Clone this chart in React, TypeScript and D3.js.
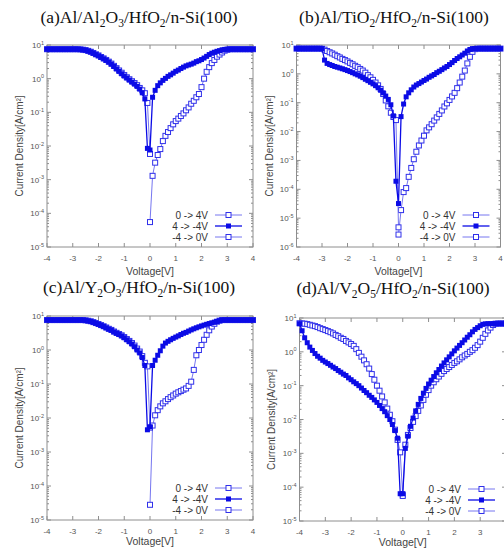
import React from 'react';
import * as d3 from 'd3';

// Voltage sweeps (V)
const V_UP = [0, 0.1, 0.2, 0.3, 0.4, 0.5, 0.6, 0.7, 0.8, 0.9, 1, 1.1, 1.2, 1.3, 1.4, 1.5, 1.6, 1.7, 1.8, 1.9, 2, 2.1, 2.2, 2.3, 2.4, 2.5, 2.6, 2.7, 2.8, 2.9, 3, 3.1, 3.2, 3.3, 3.4, 3.5, 3.6, 3.7, 3.8, 3.9, 4];
const V_DOWN = [4, 3.9, 3.8, 3.7, 3.6, 3.5, 3.4, 3.3, 3.2, 3.1, 3, 2.9, 2.8, 2.7, 2.6, 2.5, 2.4, 2.3, 2.2, 2.1, 2, 1.9, 1.8, 1.7, 1.6, 1.5, 1.4, 1.3, 1.2, 1.1, 1, 0.9, 0.8, 0.7, 0.6, 0.5, 0.4, 0.3, 0.2, 0.1, 0, -0.1, -0.2, -0.3, -0.4, -0.5, -0.6, -0.7, -0.8, -0.9, -1, -1.1, -1.2, -1.3, -1.4, -1.5, -1.6, -1.7, -1.8, -1.9, -2, -2.1, -2.2, -2.3, -2.4, -2.5, -2.6, -2.7, -2.8, -2.9, -3, -3.1, -3.2, -3.3, -3.4, -3.5, -3.6, -3.7, -3.8, -3.9, -4];
const V_NEG = [-4, -3.9, -3.8, -3.7, -3.6, -3.5, -3.4, -3.3, -3.2, -3.1, -3, -2.9, -2.8, -2.7, -2.6, -2.5, -2.4, -2.3, -2.2, -2.1, -2, -1.9, -1.8, -1.7, -1.6, -1.5, -1.4, -1.3, -1.2, -1.1, -1, -0.9, -0.8, -0.7, -0.6, -0.5, -0.4, -0.3, -0.2, -0.1, 0];

// Current density (A/cm^2) — (a) Al/Al2O3/HfO2/n-Si(100)
const A_UP = [5.5e-5, 1.3e-3, 3.2e-3, 5.4e-3, 8.1e-3, 0.014, 0.02, 0.026, 0.034, 0.044, 0.055, 0.065, 0.078, 0.093, 0.115, 0.14, 0.18, 0.22, 0.28, 0.35, 0.56, 1.0, 1.6, 2.2, 2.9, 3.6, 4.5, 5.2, 6.0, 6.8, 7.2, 7.5, 7.5, 7.5, 7.5, 7.5, 7.5, 7.5, 7.5, 7.5, 7.5];
const A_DOWN = [7.5, 7.5, 7.5, 7.5, 7.5, 7.5, 7.5, 7.5, 7.5, 7.5, 7.5, 7.4, 7.2, 6.8, 6.5, 6.1, 5.7, 5.2, 4.6, 4.1, 3.7, 3.4, 3.2, 2.9, 2.7, 2.55, 2.4, 2.2, 2.0, 1.8, 1.65, 1.46, 1.3, 1.17, 1.02, 0.89, 0.75, 0.62, 0.45, 0.28, 7.6e-3, 8.5e-3, 0.25, 0.38, 0.49, 0.59, 0.69, 0.79, 0.91, 1.05, 1.2, 1.4, 1.65, 1.95, 2.3, 2.7, 3.1, 3.5, 3.9, 4.3, 4.8, 5.2, 5.7, 6.2, 6.6, 7.0, 7.2, 7.4, 7.5, 7.5, 7.5, 7.5, 7.5, 7.5, 7.5, 7.5, 7.5, 7.5, 7.5, 7.5, 7.5];
const A_NEG = [7.5, 7.5, 7.5, 7.5, 7.5, 7.5, 7.5, 7.5, 7.5, 7.5, 7.5, 7.5, 7.5, 7.4, 7.25, 7.05, 6.7, 6.3, 5.8, 5.3, 4.9, 4.4, 4.0, 3.6, 3.2, 2.8, 2.4, 2.05, 1.75, 1.5, 1.28, 1.1, 0.96, 0.84, 0.74, 0.64, 0.53, 0.45, 0.37, 0.19, 5.8e-3];

// (b) Al/TiO2/HfO2/n-Si(100)
const B_UP = [2.7e-6, 1.9e-5, 8.0e-5, 1.1e-4, 2.7e-4, 5.5e-4, 1.1e-3, 2.0e-3, 3.3e-3, 4.9e-3, 7.2e-3, 0.011, 0.014, 0.018, 0.024, 0.031, 0.041, 0.054, 0.074, 0.095, 0.125, 0.165, 0.22, 0.32, 0.5, 0.8, 1.3, 2.3, 3.9, 5.8, 7.2, 7.5, 7.5, 7.5, 7.5, 7.5, 7.5, 7.5, 7.5, 7.5, 7.5];
const B_DOWN = [7.5, 7.5, 7.5, 7.5, 7.5, 7.5, 7.5, 7.5, 7.5, 7.5, 7.5, 7.5, 7.0, 6.2, 5.2, 4.5, 3.9, 3.4, 2.9, 2.45, 2.1, 1.8, 1.6, 1.4, 1.23, 1.1, 0.95, 0.85, 0.76, 0.66, 0.59, 0.52, 0.46, 0.41, 0.35, 0.28, 0.22, 0.16, 0.09, 0.033, 3.2e-5, 1.9e-4, 0.035, 0.085, 0.13, 0.17, 0.22, 0.27, 0.33, 0.39, 0.45, 0.51, 0.58, 0.65, 0.74, 0.83, 0.92, 1.0, 1.1, 1.2, 1.3, 1.4, 1.5, 1.6, 1.7, 1.8, 1.95, 2.1, 2.3, 3.0, 7.5, 7.5, 7.5, 7.5, 7.5, 7.5, 7.5, 7.5, 7.5, 7.5, 7.5];
const B_NEG = [7.5, 7.5, 7.5, 7.5, 7.5, 7.5, 7.5, 7.5, 7.5, 7.5, 7.4, 6.9, 6.2, 5.6, 5.1, 4.6, 4.1, 3.7, 3.3, 3.0, 2.7, 2.4, 2.15, 1.9, 1.7, 1.48, 1.3, 1.1, 0.9, 0.76, 0.62, 0.5, 0.4, 0.3, 0.2, 0.12, 0.075, 0.045, 0.032, 0.025, 4.8e-6];

// (c) Al/Y2O3/HfO2/n-Si(100)
const C_UP = [2.8e-5, 6.0e-3, 0.012, 0.017, 0.022, 0.027, 0.031, 0.036, 0.041, 0.046, 0.052, 0.057, 0.062, 0.068, 0.074, 0.088, 0.117, 0.26, 0.7, 1.0, 1.4, 2.0, 2.8, 3.8, 4.9, 5.9, 6.8, 7.3, 7.6, 7.6, 7.6, 7.6, 7.6, 7.6, 7.6, 7.6, 7.6, 7.6, 7.6, 7.6, 7.6];
const C_DOWN = [7.6, 7.6, 7.6, 7.6, 7.6, 7.6, 7.6, 7.6, 7.6, 7.6, 7.6, 7.6, 7.6, 7.3, 6.9, 6.6, 6.3, 6.0, 5.7, 5.4, 5.1, 4.8, 4.5, 4.2, 3.9, 3.6, 3.3, 3.1, 2.85, 2.6, 2.4, 2.2, 2.0, 1.8, 1.6, 1.3, 0.95, 0.7, 0.5, 0.35, 5.5e-3, 4.5e-3, 0.35, 0.6, 0.82, 1.0, 1.25, 1.5, 1.75, 2.0, 2.3, 2.6, 2.85, 3.1, 3.4, 3.8, 4.1, 4.5, 4.9, 5.3, 5.7, 6.1, 6.5, 6.9, 7.2, 7.4, 7.6, 7.6, 7.6, 7.6, 7.6, 7.6, 7.6, 7.6, 7.6, 7.6, 7.6, 7.6, 7.6, 7.6, 7.6];
const C_NEG = [7.6, 7.6, 7.6, 7.6, 7.6, 7.6, 7.6, 7.6, 7.6, 7.6, 7.6, 7.6, 7.6, 7.6, 7.6, 7.45, 7.25, 7.0, 6.6, 6.2, 5.8, 5.4, 5.0, 4.6, 4.2, 3.9, 3.5, 3.2, 2.95, 2.7, 2.4, 2.1, 1.85, 1.6, 1.35, 1.1, 0.9, 0.66, 0.42, 0.33, 5.2e-3];

// (d) Al/V2O5/HfO2/n-Si(100)
const D_UP = [6.0e-5, 1.8e-3, 3.5e-3, 5.6e-3, 8.5e-3, 0.0126, 0.018, 0.026, 0.038, 0.054, 0.074, 0.1, 0.126, 0.155, 0.186, 0.224, 0.27, 0.31, 0.355, 0.41, 0.47, 0.525, 0.6, 0.69, 0.78, 0.87, 1.0, 1.12, 1.32, 1.58, 2.0, 2.6, 3.4, 4.3, 5.2, 6.2, 6.8, 6.9, 6.9, 6.9, 6.9];
const D_DOWN = [6.8, 6.8, 6.8, 6.8, 6.8, 6.8, 6.8, 6.8, 6.7, 6.5, 5.9, 5.2, 4.6, 3.9, 3.2, 2.7, 2.24, 1.86, 1.55, 1.29, 1.07, 0.87, 0.71, 0.58, 0.47, 0.38, 0.3, 0.24, 0.186, 0.145, 0.112, 0.083, 0.06, 0.042, 0.028, 0.018, 0.011, 6.3e-3, 3.2e-3, 1.4e-3, 6.4e-5, 6.4e-5, 2.8e-3, 4.7e-3, 7.1e-3, 0.01, 0.013, 0.017, 0.021, 0.026, 0.032, 0.038, 0.045, 0.052, 0.062, 0.072, 0.085, 0.1, 0.115, 0.13, 0.15, 0.17, 0.2, 0.22, 0.25, 0.28, 0.32, 0.355, 0.4, 0.45, 0.5, 0.56, 0.65, 0.74, 0.89, 1.1, 1.38, 1.86, 2.6, 4.2, 6.8];
const D_NEG = [7.0, 6.9, 6.8, 6.6, 6.3, 6.0, 5.75, 5.4, 5.0, 4.7, 4.4, 4.1, 3.8, 3.5, 3.16, 2.9, 2.6, 2.4, 2.1, 1.9, 1.7, 1.5, 1.2, 0.93, 0.72, 0.56, 0.43, 0.32, 0.22, 0.15, 0.1, 0.071, 0.048, 0.032, 0.021, 0.0138, 8.9e-3, 5.0e-3, 2.5e-3, 1.07e-3, 5.5e-5];

const LEGEND_LABELS = ['0 -> 4V', '4 -> -4V', '-4 -> 0V'];
const X_TICKS = [-4, -3, -2, -1, 0, 1, 2, 3, 4];
const X_LABEL = 'Voltage[V]';
const Y_LABEL = 'Current Density[A/cm\u00B2]';

type Part = [string, boolean];
const TITLE_A: Part[] = [['(a)Al/Al', false], ['2', true], ['O', false], ['3', true], ['/HfO', false], ['2', true], ['/n-Si(100)', false]];
const TITLE_B: Part[] = [['(b)Al/TiO', false], ['2', true], ['/HfO', false], ['2', true], ['/n-Si(100)', false]];
const TITLE_C: Part[] = [['(c)Al/Y', false], ['2', true], ['O', false], ['3', true], ['/HfO', false], ['2', true], ['/n-Si(100)', false]];
const TITLE_D: Part[] = [['(d)Al/V', false], ['2', true], ['O', false], ['5', true], ['/HfO', false], ['2', true], ['/n-Si(100)', false]];

const FILLED = '#0b0be6';
const OPEN = '#3030ea';
const OPEN_LINE = '#7676f0';
const FRAME = '#8e8e8e';
const SANS = "'Liberation Sans', Arial, sans-serif";
const SERIF = "'Liberation Serif', 'Times New Roman', serif";
const PAGE_W = 504;

interface PanelCfg {
  title: Part[];
  up: number[];
  down: number[];
  neg: number[];
  yMin: number;
  left: number;
  right: number;
  top: number;
  bottom: number;
  titleX: number;
  titleY: number;
  yLabelX: number;
  xLabelY: number;
}

const PANELS: PanelCfg[] = [
  { title: TITLE_A, up: A_UP, down: A_DOWN, neg: A_NEG, yMin: 1e-5, left: 47, right: 253, top: 45, bottom: 247, titleX: 139, titleY: 23, yLabelX: 19.5, xLabelY: 275 },
  { title: TITLE_B, up: B_UP, down: B_DOWN, neg: B_NEG, yMin: 1e-6, left: 296.5, right: 500.5, top: 45, bottom: 247, titleX: 394, titleY: 23, yLabelX: 269, xLabelY: 275 },
  { title: TITLE_C, up: C_UP, down: C_DOWN, neg: C_NEG, yMin: 1e-5, left: 47, right: 253, top: 316, bottom: 520, titleX: 139, titleY: 293, yLabelX: 19.5, xLabelY: 545 },
  { title: TITLE_D, up: D_UP, down: D_DOWN, neg: D_NEG, yMin: 1e-5, left: 299.5, right: 506, top: 318, bottom: 521, titleX: 393, titleY: 294, yLabelX: 271, xLabelY: 546 },
];

function Title({ parts, x, y }: { parts: Part[]; x: number; y: number }) {
  let prevSub = false;
  return (
    <text x={x} y={y} textAnchor="middle" fontFamily={SERIF} fontSize={17.5} fill="#111">
      {parts.map(([t, sub], i) => {
        const dy = sub && !prevSub ? 4 : !sub && prevSub ? -4 : 0;
        prevSub = sub;
        return (
          <tspan key={i} dy={dy} fontSize={sub ? 11.5 : 17.5}>
            {t}
          </tspan>
        );
      })}
    </text>
  );
}

function Square({ cx, cy, filled }: { cx: number; cy: number; filled: boolean }) {
  const s = 5;
  return filled ? (
    <rect x={cx - s / 2} y={cy - s / 2} width={s} height={s} fill={FILLED} />
  ) : (
    <rect x={cx - s / 2} y={cy - s / 2} width={s} height={s} fill="#fff" stroke={OPEN} strokeWidth={1} />
  );
}

function Panel({ cfg }: { cfg: PanelCfg }) {
  const x = d3.scaleLinear().domain([-4, 4]).range([cfg.left, cfg.right]);
  const y = d3.scaleLog().domain([cfg.yMin, 10]).range([cfg.bottom, cfg.top]);
  const line = d3
    .line<[number, number]>()
    .x((d) => x(d[0]))
    .y((d) => y(d[1]));

  const zip = (vs: number[], js: number[]) => vs.map((v, i) => [v, js[i]] as [number, number]);
  const series = [
    { pts: zip(V_UP, cfg.up), filled: false },
    { pts: zip(V_NEG, cfg.neg), filled: false },
    { pts: zip(V_DOWN, cfg.down), filled: true },
  ];

  const yTicks = y.ticks();
  const isMajor = (t: number) => Math.abs(Math.log10(t) - Math.round(Math.log10(t))) < 1e-6;
  const midY = (cfg.top + cfg.bottom) / 2;
  const midX = (cfg.left + cfg.right) / 2;

  const legendRows = [
    { label: LEGEND_LABELS[0], filled: false },
    { label: LEGEND_LABELS[1], filled: true },
    { label: LEGEND_LABELS[2], filled: false },
  ];
  const legendYs = [cfg.bottom - 32, cfg.bottom - 21, cfg.bottom - 10];

  return (
    <g>
      <Title parts={cfg.title} x={cfg.titleX} y={cfg.titleY} />

      {/* frame */}
      <rect x={cfg.left} y={cfg.top} width={cfg.right - cfg.left} height={cfg.bottom - cfg.top} fill="none" stroke={FRAME} strokeWidth={1} />

      {/* x ticks; labels that fall past the page edge are left out */}
      {X_TICKS.map((t) => (
        <g key={'x' + t}>
          <line x1={x(t)} x2={x(t)} y1={cfg.bottom} y2={cfg.bottom - 4} stroke={FRAME} />
          <line x1={x(t)} x2={x(t)} y1={cfg.top} y2={cfg.top + 4} stroke={FRAME} />
          {x(t) + 3 < PAGE_W && (
            <text x={x(t)} y={cfg.bottom + 14} textAnchor="middle" fontFamily={SANS} fontSize={8} fill="#555">
              {t}
            </text>
          )}
        </g>
      ))}

      {/* y ticks */}
      {yTicks.map((t, i) => {
        const major = isMajor(t);
        const len = major ? 4 : 2;
        const yy = y(t);
        return (
          <g key={'y' + i}>
            <line x1={cfg.left} x2={cfg.left + len} y1={yy} y2={yy} stroke={FRAME} />
            <line x1={cfg.right} x2={cfg.right - len} y1={yy} y2={yy} stroke={FRAME} />
            {major && (
              <text x={cfg.left - 3} y={yy + 3} textAnchor="end" fontFamily={SANS} fontSize={8} fill="#555">
                <tspan>10</tspan>
                <tspan dy={-3.5} fontSize={5.5}>
                  {Math.round(Math.log10(t))}
                </tspan>
              </text>
            )}
          </g>
        );
      })}

      {/* axis titles */}
      <text x={midX} y={cfg.xLabelY} textAnchor="middle" fontFamily={SANS} fontSize={10.5} fill="#444">
        {X_LABEL}
      </text>
      <text
        transform={`translate(${cfg.yLabelX},${midY}) rotate(-90)`}
        textAnchor="middle"
        dy="0.35em"
        fontFamily={SANS}
        fontSize={10}
        fill="#444"
      >
        {Y_LABEL}
      </text>

      {/* curves */}
      {series.map((s, si) => (
        <g key={'s' + si}>
          <path
            d={line(s.pts) || ''}
            fill="none"
            stroke={s.filled ? FILLED : OPEN_LINE}
            strokeWidth={s.filled ? 1.3 : 1}
          />
          {s.pts.map((p, pi) => (
            <Square key={pi} cx={x(p[0])} cy={y(p[1])} filled={s.filled} />
          ))}
        </g>
      ))}

      {/* legend */}
      {legendRows.map((r, i) => (
        <g key={'l' + i}>
          <text x={cfg.right - 45} y={legendYs[i] + 3.5} textAnchor="end" fontFamily={SANS} fontSize={10} fill="#333">
            {r.label}
          </text>
          <line
            x1={cfg.right - 38}
            x2={cfg.right - 11}
            y1={legendYs[i]}
            y2={legendYs[i]}
            stroke={r.filled ? FILLED : OPEN_LINE}
            strokeWidth={r.filled ? 1.3 : 1}
          />
          <Square cx={cfg.right - 24.5} cy={legendYs[i]} filled={r.filled} />
        </g>
      ))}
    </g>
  );
}

export default function App() {
  return (
    <svg
      width={504}
      height={553}
      viewBox="0 0 504 553"
      style={{ position: 'absolute', left: 0, top: 0, background: '#fff', display: 'block' }}
    >
      <rect x={0} y={0} width={504} height={553} fill="#fff" />
      {PANELS.map((p, i) => (
        <Panel key={i} cfg={p} />
      ))}
    </svg>
  );
}
